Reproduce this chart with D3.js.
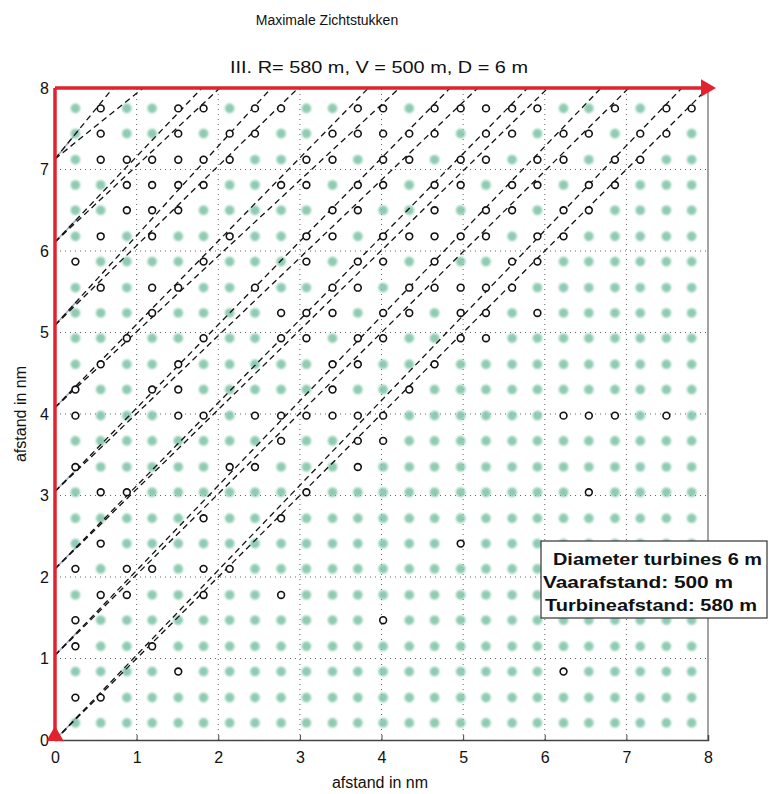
<!DOCTYPE html>
<html>
<head>
<meta charset="utf-8">
<script src="https://cdn.jsdelivr.net/npm/d3@7"></script>
<style>
  body { margin: 0; background: #fff; }
  svg { font-family: "Liberation Sans", Arial, sans-serif; }
</style>
</head>
<body>
<svg id="chart" width="769" height="794"></svg>
<script>
// turbine grid positions (nm)
const colX = [0.25, 0.56, 0.88, 1.19, 1.51, 1.82, 2.14, 2.45, 2.77, 3.08, 3.40, 3.71, 4.02,
              4.34, 4.65, 4.97, 5.28, 5.60, 5.91, 6.23, 6.54, 6.86, 7.17, 7.49, 7.80];
const rowY = [0.21, 0.52, 0.84, 1.15, 1.47, 1.78, 2.10, 2.41, 2.72, 3.04, 3.35, 3.67, 3.98,
              4.30, 4.61, 4.93, 5.24, 5.55, 5.87, 6.18, 6.50, 6.81, 7.12, 7.44, 7.75];

// black (visible) turbines per row index -> column indices
const visibleByRow = {
  24: [1, 4, 5, 7, 8, 11, 12, 14, 15, 16, 17, 18, 21, 23, 24],
  23: [1, 4, 6, 7, 10, 11, 12, 13, 14, 16, 17, 19, 20, 22, 23],
  22: [1, 2, 3, 4, 5, 6, 9, 10, 12, 13, 15, 16, 18, 19, 21, 22],
  21: [2, 3, 4, 5, 8, 9, 11, 12, 14, 15, 17, 18, 20, 21],
  20: [2, 3, 4, 10, 11, 14, 16, 17, 19, 20],
  19: [1, 3, 6, 9, 10, 12, 13, 14, 15, 16, 18, 19],
  18: [0, 5, 9, 11, 12, 14, 17, 18],
  17: [1, 3, 4, 7, 10, 11, 13, 14, 15, 16, 17],
  16: [3, 8, 9, 10, 12, 13, 15, 16, 18],
  15: [2, 5, 8, 9, 11, 12, 15, 16],
  14: [1, 4, 10, 11, 14],
  13: [0, 3, 4, 10, 13],
  12: [0, 4, 5, 7, 8, 9, 10, 11, 12, 19, 20, 21, 23],
  11: [8, 11, 12],
  10: [0, 6, 7, 11],
  9:  [1, 2, 9, 20],
  8:  [5, 8],
  7:  [1, 15],
  6:  [0, 2, 3, 5, 6],
  5:  [1, 2, 5, 8],
  4:  [0, 12],
  3:  [0, 3],
  2:  [4, 19],
  1:  [0, 1],
  0:  []
};

// sight lines: start on the left axis, two ends on the top edge
const lineStartY = [0, 1.04, 2.10, 3.05, 4.08, 5.09, 6.11, 7.13];
const lineEndXa  = [7.68, 6.69, 5.79, 4.84, 3.84, 2.65, 1.80, 0.71];
const lineEndXb  = [8.00, 7.03, 6.04, 5.18, 4.22, 2.98, 2.02, 1.08];

const ticks = [0, 1, 2, 3, 4, 5, 6, 7, 8];
const legendLines = ["Diameter turbines 6 m", "Vaarafstand: 500 m", "Turbineafstand: 580 m"];

const svg = d3.select("#chart");

const x = d3.scaleLinear().domain([0, 8]).range([55, 708]);
const y = d3.scaleLinear().domain([0, 8]).range([740, 88]);

// soft look for the scanned green dots
const defs = svg.append("defs");
defs.append("filter").attr("id", "soft")
  .attr("x", "-50%").attr("y", "-50%").attr("width", "200%").attr("height", "200%")
  .append("feGaussianBlur").attr("stdDeviation", 1.3);

// grid
const grid = svg.append("g");
ticks.slice(1, 8).forEach(t => {
  grid.append("line")
    .attr("x1", x(t)).attr("x2", x(t)).attr("y1", y(0)).attr("y2", y(8))
    .attr("stroke", "#222").attr("stroke-width", 1).attr("stroke-dasharray", "1,4").attr("opacity", 0.7);
  grid.append("line")
    .attr("y1", y(t)).attr("y2", y(t)).attr("x1", x(0)).attr("x2", x(8))
    .attr("stroke", "#222").attr("stroke-width", 1).attr("stroke-dasharray", "1,4").attr("opacity", 0.7);
});

// turbines
const turbines = [];
rowY.forEach((ry, r) => {
  colX.forEach((cx, c) => {
    turbines.push({ x: cx, y: ry, visible: (visibleByRow[r] || []).includes(c) });
  });
});

svg.append("g")
  .selectAll("circle")
  .data(turbines.filter(d => !d.visible))
  .join("circle")
  .attr("cx", d => x(d.x))
  .attr("cy", d => y(d.y))
  .attr("r", 4.8)
  .attr("fill", "#7cc3a6")
  .attr("opacity", 0.85)
  .attr("filter", "url(#soft)");

// faint solid segments near the line starts
const lineG = svg.append("g");
lineStartY.forEach((sy, i) => {
  const dx = 0.3;
  const slope = (8 - sy) / lineEndXa[i];
  lineG.append("line")
    .attr("x1", x(0)).attr("y1", y(sy))
    .attr("x2", x(dx)).attr("y2", y(sy + dx * slope))
    .attr("stroke", "#8c9cb4").attr("stroke-width", 1.6).attr("opacity", 0.8);
});

// dashed sight lines
lineStartY.forEach((sy, i) => {
  [lineEndXa[i], lineEndXb[i]].forEach(ex => {
    lineG.append("line")
      .attr("x1", x(0)).attr("y1", y(sy))
      .attr("x2", x(ex)).attr("y2", y(8))
      .attr("stroke", "#111").attr("stroke-width", 1.3)
      .attr("stroke-dasharray", "6,4");
  });
});

svg.append("g")
  .selectAll("circle")
  .data(turbines.filter(d => d.visible))
  .join("circle")
  .attr("cx", d => x(d.x))
  .attr("cy", d => y(d.y))
  .attr("r", 3.4)
  .attr("fill", "#fff")
  .attr("stroke", "#111")
  .attr("stroke-width", 1.6);

// frame
svg.append("line")
  .attr("x1", x(8)).attr("x2", x(8)).attr("y1", y(0)).attr("y2", y(8))
  .attr("stroke", "#666").attr("stroke-width", 1.2);

const xAxis = svg.append("g")
  .attr("transform", `translate(0,${y(0)})`)
  .call(d3.axisBottom(x).tickValues(ticks).tickSize(-5).tickPadding(12).tickFormat(d3.format("d")));
xAxis.select(".domain").attr("stroke", "#444").attr("stroke-width", 1.5);
xAxis.selectAll(".tick line").attr("stroke", "#444");
xAxis.selectAll("text").attr("font-size", 16).attr("fill", "#111");

const yAxis = svg.append("g")
  .attr("transform", `translate(${x(0)},0)`)
  .call(d3.axisLeft(y).tickValues(ticks).tickSize(0).tickPadding(6).tickFormat(d3.format("d")));
yAxis.select(".domain").remove();
yAxis.selectAll("text").attr("font-size", 16).attr("fill", "#111");

// red edges
svg.append("line")
  .attr("x1", x(0)).attr("x2", x(0)).attr("y1", y(0)).attr("y2", y(8))
  .attr("stroke", "#e0232e").attr("stroke-width", 3.5);
svg.append("line")
  .attr("x1", x(0)).attr("x2", x(8)).attr("y1", y(8)).attr("y2", y(8))
  .attr("stroke", "#e0232e").attr("stroke-width", 3.5);

svg.append("path")
  .attr("d", d3.symbol(d3.symbolTriangle, 130)())
  .attr("transform", `translate(${x(0)},${y(0) - 4})`)
  .attr("fill", "#e0232e");
svg.append("path")
  .attr("d", d3.symbol(d3.symbolTriangle, 130)())
  .attr("transform", `translate(${x(8) - 2},${y(8)}) rotate(90)`)
  .attr("fill", "#e0232e");

// legend box
const lg = svg.append("g");
lg.append("rect")
  .attr("x", 541).attr("y", 541).attr("width", 226).attr("height", 77)
  .attr("fill", "#fff").attr("stroke", "#333").attr("stroke-width", 1.2);
const legendPos = [[553, 565, 209], [543, 588, 190], [545, 611, 212]];
legendLines.forEach((t, i) => {
  lg.append("text")
    .attr("x", legendPos[i][0]).attr("y", legendPos[i][1])
    .attr("font-size", 17).attr("font-weight", "bold").attr("fill", "#111")
    .attr("textLength", legendPos[i][2]).attr("lengthAdjust", "spacingAndGlyphs")
    .text(t);
});

// titles and axis labels
svg.append("text")
  .attr("x", 327).attr("y", 25).attr("text-anchor", "middle")
  .attr("font-size", 14).attr("fill", "#111")
  .text("Maximale Zichtstukken");
svg.append("text")
  .attr("x", 379).attr("y", 73).attr("text-anchor", "middle")
  .attr("font-size", 16).attr("fill", "#111")
  .attr("textLength", 298).attr("lengthAdjust", "spacingAndGlyphs")
  .text("III. R= 580 m, V = 500 m, D = 6 m");
svg.append("text")
  .attr("x", 380).attr("y", 788).attr("text-anchor", "middle")
  .attr("font-size", 16).attr("fill", "#111")
  .text("afstand in nm");
svg.append("text")
  .attr("transform", "translate(26,414) rotate(-90)")
  .attr("text-anchor", "middle")
  .attr("font-size", 16).attr("fill", "#111")
  .text("afstand in nm");
</script>
</body>
</html>
